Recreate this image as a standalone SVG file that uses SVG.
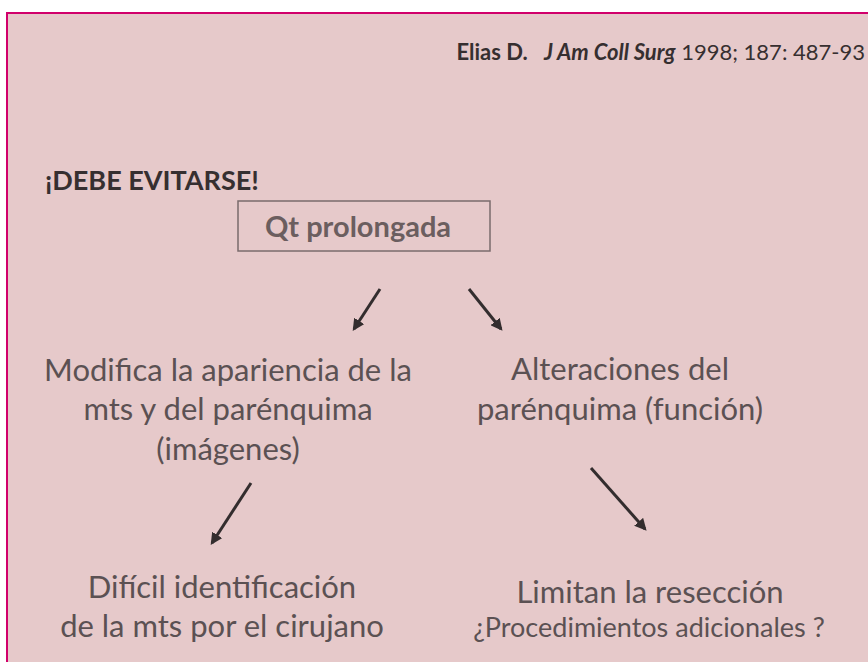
<svg xmlns="http://www.w3.org/2000/svg" width="868" height="662" viewBox="0 0 868 662">
<style>
.t{font-family:Lato,"Open Sans","Liberation Sans",sans-serif;fill:#5b5153}
.big{font-size:31px}
.mid{font-size:27px}
.b{font-weight:bold;fill:#362f30}
.arr{stroke:#332d2e;stroke-width:3;fill:none;marker-end:url(#ah)}
</style>
<defs>
<marker id="ah" viewBox="0 0 10 10" refX="8" refY="5" markerWidth="4" markerHeight="4" orient="auto" markerUnits="strokeWidth">
<path d="M0,0 L10,5 L0,10 z" fill="#332d2e"/>
</marker>
</defs>
<rect x="0" y="0" width="868" height="662" fill="#ffffff"/>
<rect x="7" y="13" width="880" height="680" fill="#e6c9ca" stroke="#d1006b" stroke-width="2"/>
<g id="citation">
<text class="t b" x="865" y="60" font-size="22" text-anchor="end" xml:space="preserve">Elias D.   <tspan font-style="italic">J Am Coll Surg</tspan><tspan font-weight="normal"> 1998; 187: 487-93</tspan></text>
</g>
<g id="warning">
<text class="t b" x="45" y="190" font-size="27">¡DEBE EVITARSE!</text>
</g>
<g id="qt">
<rect x="238" y="201" width="252" height="50" fill="none" stroke="#7a6b6c" stroke-width="1.5"/>
<text class="t" x="358" y="237" font-size="29" font-weight="bold" text-anchor="middle" style="fill:#6b5e5f">Qt prolongada</text>
</g>
<g id="modifica">
<text class="t big" x="228" y="381" text-anchor="middle">Modifica la apariencia de la</text>
<text class="t big" x="228" y="420" text-anchor="middle">mts y del parénquima</text>
<text class="t big" x="228" y="460" text-anchor="middle">(imágenes)</text>
</g>
<g id="alteraciones">
<text class="t big" x="620" y="380" text-anchor="middle">Alteraciones del</text>
<text class="t big" x="620" y="420" text-anchor="middle">parénquima (función)</text>
</g>
<g id="dificil">
<text class="t big" x="222" y="598" text-anchor="middle">Difícil identificación</text>
<text class="t big" x="222" y="637" text-anchor="middle">de la mts por el cirujano</text>
</g>
<g id="limitan">
<text class="t big" x="650" y="603" text-anchor="middle">Limitan la resección</text>
<text class="t mid" x="649" y="637" text-anchor="middle">¿Procedimientos adicionales ?</text>
</g>
<g id="connectors">
<line class="arr" x1="380" y1="289" x2="354" y2="329"/>
<line class="arr" x1="469" y1="289" x2="501" y2="329"/>
<line class="arr" x1="251" y1="483" x2="212" y2="543"/>
<line class="arr" x1="591" y1="468" x2="645" y2="529"/>
</g>
</svg>
